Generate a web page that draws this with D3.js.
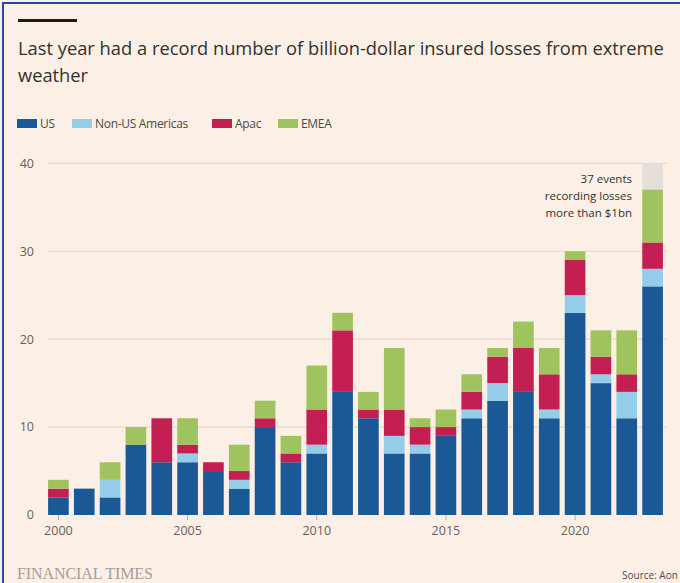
<!DOCTYPE html>
<html>
<head>
<meta charset="utf-8">
<script src="https://cdn.jsdelivr.net/npm/d3@7"></script>
<style>
  html, body { margin: 0; padding: 0; background: #fcf0e6; }
  svg { display: block; font-family: "Open Sans", "Noto Sans", sans-serif; }
</style>
</head>
<body>
<svg id="chart" width="680" height="583"></svg>
<script>
// values, number of events per year
const years = d3.range(2000, 2024);
const us =      [2, 3, 2, 8, 6, 6, 5, 3, 10, 6, 7, 14, 11, 7, 7, 9, 11, 13, 14, 11, 23, 15, 11, 26];
const nonUs =   [0, 0, 2, 0, 0, 1, 0, 1, 0, 0, 1, 0, 0, 2, 1, 0, 1, 2, 0, 1, 2, 1, 3, 2];
const apac =    [1, 0, 0, 0, 5, 1, 1, 1, 1, 1, 4, 7, 1, 3, 2, 1, 2, 3, 5, 4, 4, 2, 2, 3];
const emea =    [1, 0, 2, 2, 0, 3, 0, 3, 2, 2, 5, 2, 2, 7, 1, 2, 2, 1, 3, 3, 1, 3, 5, 6];
const seriesNames = ["US", "Non-US Americas", "Apac", "EMEA"];
const seriesColors = ["#1b5996", "#93cdea", "#c41f52", "#9fc35e"];
const yTicks = [0, 10, 20, 30, 40];
const xTickYears = [2000, 2005, 2010, 2015, 2020];
const noteLines = ["37 events", "recording losses", "more than $1bn"];

const svg = d3.select("#chart");

// frame
svg.append("line").attr("x1", 2).attr("x2", 680).attr("y1", 3).attr("y2", 3)
    .attr("stroke", "#2c45a6").attr("stroke-width", 2);
svg.append("line").attr("x1", 3).attr("x2", 3).attr("y1", 3).attr("y2", 583)
    .attr("stroke", "#2c45a6").attr("stroke-width", 2);

// title - squeezed horizontally to the width of the narrower FT face
function squeezedText(str, baseline, width) {
    const t = svg.append("text").attr("x", 0).attr("y", baseline)
        .attr("font-size", 19).attr("fill", "#33302e").text(str);
    const w = t.node().getComputedTextLength();
    t.attr("transform", "translate(18,0) scale(" + (width / w) + ",1)");
    return t;
}
svg.append("rect").attr("x", 18).attr("y", 19).attr("width", 59).attr("height", 3).attr("fill", "#1a1a1a");
squeezedText("Last year had a record number of billion-dollar insured losses from extreme", 55, 646);
squeezedText("weather", 82, 70);

// legend
const legendX = [17, 72, 212, 278];
const legend = svg.append("g");
seriesNames.forEach(function (name, i) {
    legend.append("rect").attr("x", legendX[i]).attr("y", 119).attr("width", 20).attr("height", 9)
        .attr("fill", seriesColors[i]);
    legend.append("text").attr("x", legendX[i] + 23).attr("y", 128)
        .attr("font-size", 12).attr("fill", "#4d4845")
        .attr("letter-spacing", -0.3)
        .text(name);
});

// scales
const x = d3.scaleBand().domain(years).range([45.5, 665.5]).paddingInner(0.2).paddingOuter(0.1);
const y = d3.scaleLinear().domain([0, 40]).range([515, 163.3]);

// gridlines + y labels
const grid = svg.append("g");
yTicks.forEach(function (t) {
    if (t > 0) {
        grid.append("line").attr("x1", 48).attr("x2", 667).attr("y1", y(t)).attr("y2", y(t))
            .attr("stroke", "#e6d8cc").attr("stroke-width", 1.2);
    }
    grid.append("text").attr("x", 34).attr("y", y(t)).attr("dy", "0.35em")
        .attr("text-anchor", "end").attr("font-size", 12.5).attr("fill", "#66605c")
        .text(t);
});

// stacked bars
const rows = years.map(function (yr, i) {
    return { year: yr, US: us[i], "Non-US Americas": nonUs[i], Apac: apac[i], EMEA: emea[i] };
});
const stacked = d3.stack().keys(seriesNames)(rows);

// grey cap above the final bar that holds the note
const lastYear = years[years.length - 1];
const lastTotal = us[23] + nonUs[23] + apac[23] + emea[23];
svg.append("rect")
    .attr("x", x(lastYear)).attr("width", x.bandwidth())
    .attr("y", y(40)).attr("height", y(lastTotal) - y(40))
    .attr("fill", "#e4dfda");

svg.append("g").selectAll("g").data(stacked).join("g")
    .attr("fill", function (d, i) { return seriesColors[i]; })
    .selectAll("rect").data(function (d) { return d; }).join("rect")
    .attr("x", function (d) { return x(d.data.year); })
    .attr("width", x.bandwidth())
    .attr("y", function (d) { return y(d[1]); })
    .attr("height", function (d) { return y(d[0]) - y(d[1]); });

// x axis
const xAxis = d3.axisBottom(x).tickValues(xTickYears).tickSize(5).tickPadding(6);
const gx = svg.append("g").attr("transform", "translate(0," + y(0) + ")").call(xAxis);
gx.select(".domain").remove();
gx.attr("font-family", null);
gx.selectAll(".tick line").attr("stroke", "#b8aea6");
gx.selectAll(".tick text").attr("font-size", 12.5).attr("fill", "#66605c");

// note
const note = svg.append("text").attr("text-anchor", "end").attr("font-size", 11.5).attr("fill", "#33302e");
noteLines.forEach(function (line, i) {
    note.append("tspan").attr("x", 632).attr("y", 183 + i * 17).text(line);
});

// footer
svg.append("text").attr("x", 17).attr("y", 579)
    .style("font-family", "\"Liberation Serif\", \"DejaVu Serif\", serif").attr("font-size", 16)
    .attr("fill", "#a49e9a").attr("letter-spacing", -0.1)
    .text("FINANCIAL TIMES");
svg.append("text").attr("x", 622).attr("y", 579)
    .attr("font-size", 10).attr("fill", "#4d4845")
    .text("Source: Aon");
</script>
</body>
</html>
